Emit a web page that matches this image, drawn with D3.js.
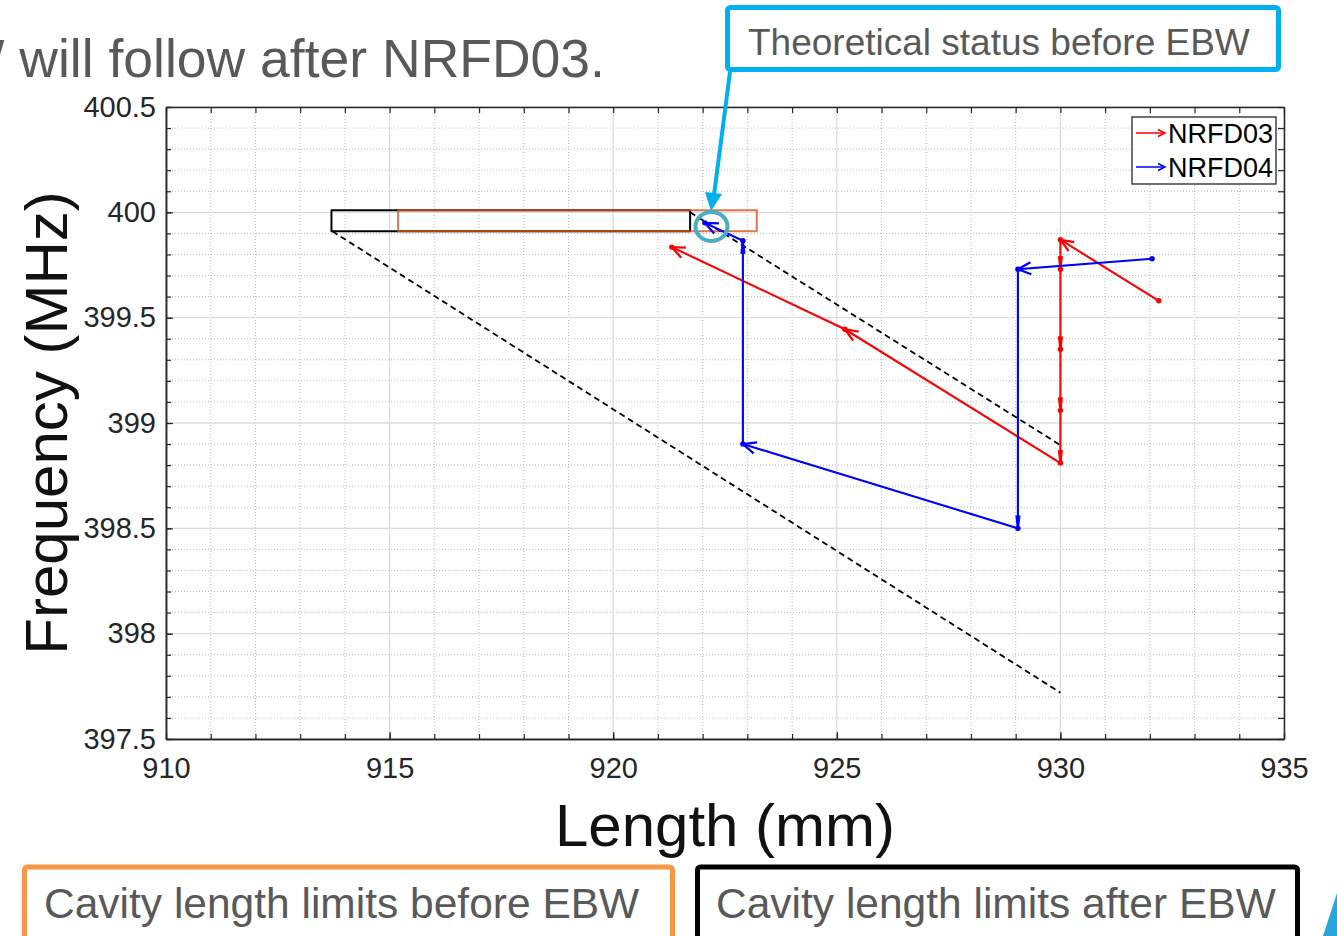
<!DOCTYPE html>
<html>
<head>
<meta charset="utf-8">
<script src="https://cdn.jsdelivr.net/npm/d3@7"></script>
<style>
  html, body { margin: 0; padding: 0; background: #fff; }
  svg { display: block; font-family: "Liberation Sans", Arial, sans-serif; }
</style>
</head>
<body>
<div class="chart"></div>
<script>
// size of the page and plot box
const W = 1337, H = 936;
const pLeft = 166, pRight = 1284, pTop = 107, pBottom = 739;

// axis ticks
const xTicks = [910, 915, 920, 925, 930, 935];
const yTicks = [397.5, 398, 398.5, 399, 399.5, 400, 400.5];
const yTickLabels = ["397.5", "398", "398.5", "399", "399.5", "400", "400.5"];

// measured paths
const len03 = [932.2, 930.0, 930.0, 930.0, 930.0, 930.0, 925.18, 921.31];
const freq03 = [399.58, 399.87, 399.73, 399.35, 399.06, 398.81, 399.445, 399.835];
const len04 = [932.05, 929.05, 929.05, 922.9, 922.9, 922.05];
const freq04 = [399.78, 399.73, 398.50, 398.90, 399.865, 399.95];

// theoretical lines (dashed)
const dashAx = [913.72, 930.0];
const dashAy = [399.91, 397.72];
const dashBx = [921.72, 930.0];
const dashBy = [400.0, 398.895];

// cavity length limits [minLen, maxLen, minFreq, maxFreq]
const limitsAfter = [913.7, 921.72, 399.91, 400.01];
const limitsBefore = [915.19, 923.21, 399.91, 400.01];

const seriesNames = ["NRFD03", "NRFD04"];
const seriesColors = ["#ff0000", "#0000ff"];

const svg = d3.select(".chart").append("svg")
  .attr("width", W).attr("height", H);

const x = d3.scaleLinear().domain([910, 935]).range([pLeft, pRight]);
const y = d3.scaleLinear().domain([397.5, 400.5]).range([pBottom, pTop]);

// minor and major grid
const xMinorAll = d3.range(910, 935.001, 1);
const yMinorAll = d3.range(0, 31).map(i => 397.5 + i * 0.1);
const xMinor = xMinorAll.filter(v => Math.abs(v % 5) > 1e-6);
const yMinor = yMinorAll.filter((v, i) => i % 5 !== 0);

const grid = svg.append("g");
grid.selectAll(".gxm").data(xMinor).enter().append("line")
  .attr("x1", d => x(d)).attr("x2", d => x(d)).attr("y1", pTop).attr("y2", pBottom)
  .attr("stroke", "#bdbdbd").attr("stroke-width", 1).attr("stroke-dasharray", "1,2");
grid.selectAll(".gym").data(yMinor).enter().append("line")
  .attr("x1", pLeft).attr("x2", pRight).attr("y1", d => y(d)).attr("y2", d => y(d))
  .attr("stroke", "#bdbdbd").attr("stroke-width", 1).attr("stroke-dasharray", "1,2");
grid.selectAll(".gx").data(xTicks).enter().append("line")
  .attr("x1", d => x(d)).attr("x2", d => x(d)).attr("y1", pTop).attr("y2", pBottom)
  .attr("stroke", "#dcdcdc").attr("stroke-width", 1.3);
grid.selectAll(".gy").data(yTicks).enter().append("line")
  .attr("x1", pLeft).attr("x2", pRight).attr("y1", d => y(d)).attr("y2", d => y(d))
  .attr("stroke", "#dcdcdc").attr("stroke-width", 1.3);

// limit boxes
function limitRect(r, color, op) {
  svg.append("rect")
    .attr("x", x(r[0])).attr("y", y(r[3]))
    .attr("width", x(r[1]) - x(r[0])).attr("height", y(r[2]) - y(r[3]))
    .attr("fill", "none").attr("stroke", color).attr("stroke-width", 2)
    .attr("stroke-opacity", op).attr("stroke-linejoin", "round");
}
limitRect(limitsAfter, "#000000", 1);
limitRect(limitsBefore, "#d95319", 0.8);

// dashed theoretical lines
function dashed(xs, ys) {
  svg.append("line")
    .attr("x1", x(xs[0])).attr("y1", y(ys[0]))
    .attr("x2", x(xs[1])).attr("y2", y(ys[1]))
    .attr("stroke", "#000").attr("stroke-width", 1.8).attr("stroke-dasharray", "6,4");
}
dashed(dashAx, dashAy);
dashed(dashBx, dashBy);

// open arrowhead drawn at the end of a segment
function arrowHead(g, x1, y1, x2, y2, color, size) {
  const dx = x2 - x1, dy = y2 - y1;
  const L = Math.sqrt(dx * dx + dy * dy);
  const ux = dx / L, uy = dy / L;
  const hl = size || 10;
  const hw = 1.5 + 4.5 * Math.abs(ux);
  const bx = x2 - ux * hl, by = y2 - uy * hl;
  g.append("path")
    .attr("d", `M${bx - uy * hw},${by + ux * hw}L${x2},${y2}L${bx + uy * hw},${by - ux * hw}`)
    .attr("fill", "none").attr("stroke", color).attr("stroke-width", 2.2);
}

function drawSeries(lens, freqs, color) {
  const g = svg.append("g");
  const pts = lens.map((l, i) => [x(l), y(freqs[i])]);
  g.append("path")
    .attr("d", d3.line()(pts))
    .attr("fill", "none").attr("stroke", color).attr("stroke-width", 2.1);
  for (let i = 1; i < pts.length; i++) {
    arrowHead(g, pts[i - 1][0], pts[i - 1][1], pts[i][0], pts[i][1], color, 13);
  }
  g.selectAll("circle").data(pts).enter().append("circle")
    .attr("cx", d => d[0]).attr("cy", d => d[1]).attr("r", 2.7)
    .attr("fill", color);
}
drawSeries(len03, freq03, seriesColors[0]);
drawSeries(len04, freq04, seriesColors[1]);

// axes with inward ticks
const axisColor = "#262626";
function styleAxis(g) {
  g.select(".domain").attr("stroke", axisColor).attr("stroke-width", 1.5);
  g.selectAll(".tick line").attr("stroke", axisColor).attr("stroke-width", 1.2);
  g.selectAll("text").attr("fill", axisColor).attr("font-size", 29)
    .attr("font-family", "'Liberation Sans', Arial, sans-serif");
}

svg.append("g").attr("transform", `translate(0,${pBottom})`)
  .call(d3.axisBottom(x).tickValues(xTicks).tickFormat(d3.format("d"))
    .tickSizeInner(-7).tickSizeOuter(0).tickPadding(18))
  .call(styleAxis);
svg.append("g").attr("transform", `translate(0,${pBottom})`)
  .call(d3.axisBottom(x).tickValues(xMinorAll).tickFormat("").tickSizeInner(-5).tickSizeOuter(0))
  .call(styleAxis);
svg.append("g").attr("transform", `translate(0,${pTop})`)
  .call(d3.axisTop(x).tickValues(xMinorAll).tickFormat("").tickSizeInner(-6).tickSizeOuter(0))
  .call(styleAxis);
svg.append("g").attr("transform", `translate(${pLeft},0)`)
  .call(d3.axisLeft(y).tickValues(yTicks).tickFormat((d, i) => yTickLabels[i])
    .tickSizeInner(-7).tickSizeOuter(0).tickPadding(10))
  .call(styleAxis);
svg.append("g").attr("transform", `translate(${pLeft},0)`)
  .call(d3.axisLeft(y).tickValues(yMinorAll).tickFormat("").tickSizeInner(-5).tickSizeOuter(0))
  .call(styleAxis);
svg.append("g").attr("transform", `translate(${pRight},0)`)
  .call(d3.axisRight(y).tickValues(yMinorAll).tickFormat("").tickSizeInner(-6).tickSizeOuter(0))
  .call(styleAxis);

// axis titles
svg.append("text")
  .attr("x", (pLeft + pRight) / 2).attr("y", 846)
  .attr("text-anchor", "middle").attr("font-size", 60).attr("fill", "#111")
  .text("Length (mm)");
svg.append("text")
  .attr("transform", `translate(67,${(pTop + pBottom) / 2}) rotate(-90)`)
  .attr("text-anchor", "middle").attr("font-size", 60).attr("fill", "#111")
  .text("Frequency (MHz)");

// legend
const leg = svg.append("g");
leg.append("rect").attr("x", 1132).attr("y", 117).attr("width", 144).attr("height", 67)
  .attr("fill", "#fff").attr("stroke", axisColor).attr("stroke-width", 1.3);
seriesNames.forEach((name, i) => {
  const cy = 133 + i * 34;
  leg.append("line").attr("x1", 1136).attr("x2", 1165).attr("y1", cy).attr("y2", cy)
    .attr("stroke", seriesColors[i]).attr("stroke-width", 1.5);
  leg.append("path").attr("d", `M1158,${cy - 3.5}L1165,${cy}L1158,${cy + 3.5}`)
    .attr("fill", "none").attr("stroke", seriesColors[i]).attr("stroke-width", 1.5);
  leg.append("text").attr("x", 1168).attr("y", cy + 10)
    .attr("font-size", 27).attr("fill", "#000").text(name);
});

// slide title fragment
svg.append("text")
  .attr("x", 605).attr("y", 77).attr("text-anchor", "end")
  .attr("font-size", 53.5).attr("fill", "#595959")
  .text("EBW will follow after NRFD03.");

// callout: theoretical status
svg.append("rect").attr("x", 727.5).attr("y", 7.5).attr("width", 551).attr("height", 62)
  .attr("rx", 3).attr("fill", "#fff").attr("stroke", "#00b0f0").attr("stroke-width", 5);
svg.append("text").attr("x", 748).attr("y", 55).attr("font-size", 37).attr("fill", "#595959")
  .text("Theoretical status before EBW");
svg.append("line").attr("x1", 730).attr("y1", 72).attr("x2", 714).attr("y2", 195)
  .attr("stroke", "#00b0f0").attr("stroke-width", 4);
svg.append("path").attr("d", "M705,192L722,194L711,211Z").attr("fill", "#00b0f0");
svg.append("ellipse").attr("cx", 711.5).attr("cy", 226.5).attr("rx", 16).attr("ry", 14.5)
  .attr("fill", "none").attr("stroke", "#4bacc6").attr("stroke-width", 4);

// bottom callouts
svg.append("rect").attr("x", 24.5).attr("y", 867).attr("width", 648).attr("height", 90)
  .attr("rx", 3).attr("fill", "#fff").attr("stroke", "#f79646").attr("stroke-width", 5);
svg.append("text").attr("x", 44).attr("y", 918).attr("font-size", 42.5).attr("fill", "#595959")
  .text("Cavity length limits before EBW");
svg.append("rect").attr("x", 697.5).attr("y", 867).attr("width", 600).attr("height", 90)
  .attr("rx", 3).attr("fill", "#fff").attr("stroke", "#000").attr("stroke-width", 5);
svg.append("text").attr("x", 716).attr("y", 918).attr("font-size", 42.5).attr("fill", "#595959")
  .text("Cavity length limits after EBW");

// corner decoration
svg.append("path").attr("d", "M1337,893L1323,936L1337,936Z").attr("fill", "#2aa5da");
</script>
</body>
</html>
